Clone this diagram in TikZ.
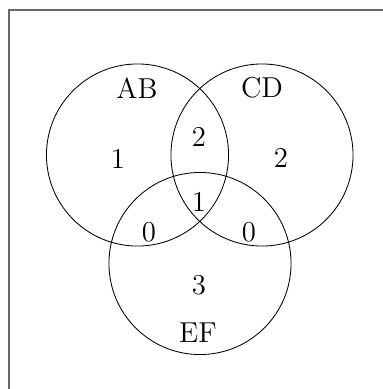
\documentclass[tikz,border=0pt]{standalone}
\begin{document}
\begin{tikzpicture}[x=0.469pt,y=-0.469pt,
  setcircle/.style={circle,draw=black,line width=0.4pt,minimum size=85.4pt,inner sep=0pt},
  lbl/.style={inner sep=0pt,font=\fontsize{13.5}{16}\selectfont}]
\useasboundingbox (0,0) rectangle (383,389);
\clip (0,0) rectangle (383,389);
\draw[draw=black!60,line width=0.5pt] (9,10) rectangle (420,420);
\node[setcircle] (ab) at (137.5,155) {};
\node[setcircle] (cd) at (262,155) {};
\node[setcircle] (ef) at (200,263.5) {};
\node[lbl] (tab) at (137,88) {AB};
\node[lbl] (tcd) at (262,88) {CD};
\node[lbl] (tef) at (198,333) {EF};
\node[lbl] (n1) at (118,159) {1};
\node[lbl] (n2) at (199,137) {2};
\node[lbl] (n3) at (281,158) {2};
\node[lbl] (n4) at (199,202) {1};
\node[lbl] (n5) at (149,232) {0};
\node[lbl] (n6) at (249,232) {0};
\node[lbl] (n7) at (199,285) {3};
\end{tikzpicture}
\end{document}
